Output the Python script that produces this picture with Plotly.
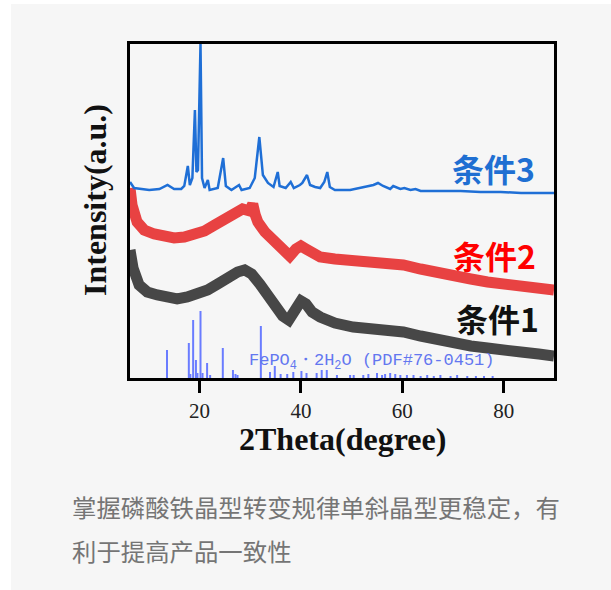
import plotly.graph_objects as go

# ---- data ----
# 2Theta (degree) and intensity (a.u.) for each condition
x_c3 = [6.3, 7.1, 10.1, 12.1, 13.7, 15.0, 16.4, 17.0, 17.7, 18.1, 18.6, 19.1, 19.4, 19.7, 20.2, 20.5,
        21.0, 21.65, 22.0, 23.6, 24.67, 25.2, 26.3, 27.8, 28.3, 29.9, 30.9, 31.8, 32.5, 33.5, 34.6,
        35.43, 35.8, 37.0, 37.99, 38.6, 39.8, 40.28, 41.2, 41.8, 42.8, 43.8, 44.6, 45.2, 45.7, 46.7,
        49.7, 51.7, 53.1, 54.3, 55.2, 56.2, 57.6, 58.2, 59.6, 60.4, 61.6, 62.6, 63.6, 67.5, 71.5,
        75.4, 79.4, 83.4, 87.3, 89.9]
y_c3 = [196, 190, 188, 189, 193, 189, 189, 192, 212, 193, 200, 268, 206, 208, 334, 200,
        190, 198, 188, 190, 220, 192, 188, 193, 188, 190, 200, 241, 203, 195, 191,
        206, 192, 190, 196, 190, 193, 195, 203, 193, 191, 190, 196, 206, 191, 188,
        188, 190, 192, 193, 195, 192, 189, 192, 189, 190, 188, 189, 187, 187, 187,
        186, 186, 185, 185, 185]

x_c2 = [6.3, 6.7, 7.7, 9.1, 11.1, 13.1, 15.0, 17.0, 19.0, 21.0, 23.0, 25.0, 26.9, 28.5, 29.9,
        30.5, 31.0, 31.5, 32.9, 34.9, 36.4, 37.8, 39.0, 40.0, 41.0, 42.4, 43.8, 46.7, 50.3, 53.7,
        56.6, 60.2, 63.6, 66.9, 70.1, 73.5, 76.8, 80.0, 83.4, 86.9, 89.9]
y_c2 = [190, 173, 156, 148, 144, 142, 140, 141, 144, 147, 153, 159, 165, 169, 167,
        174, 163, 156, 146, 136, 127, 122, 129, 132, 129, 124, 121, 119, 117, 117,
        116, 113, 109, 105, 102, 99, 96, 94, 92, 90, 88]

x_c1 = [6.3, 6.9, 8.1, 9.7, 11.7, 13.7, 15.6, 17.6, 19.6, 21.6, 23.6, 25.5, 27.5, 28.9, 30.3,
        31.9, 33.5, 35.0, 36.4, 37.6, 38.8, 40.0, 41.0, 42.2, 43.8, 46.7, 50.3, 53.7, 56.6, 60.2,
        63.6, 66.9, 70.1, 73.5, 76.8, 80.0, 83.4, 86.9, 89.9]
y_c1 = [128, 110, 93, 86, 83, 81, 79, 81, 84, 88, 94, 101, 106, 108, 104,
        94, 81, 70, 62, 58, 67, 77, 74, 66, 61, 55, 51, 50, 49, 46,
        42, 38, 35, 32, 30, 27, 26, 24, 22]

# reference pattern FePO4·2H2O (PDF#76-0451): positions and relative heights
ref_pos = [13.6, 17.9, 18.2, 18.75, 19.3, 19.6, 20.2, 20.6, 21.5, 22.1, 24.6, 26.6, 27.1, 27.5,
           32.1, 33.9, 34.85, 36.0, 37.3, 38.5, 40.1, 41.1, 43.1, 44.1, 45.1, 47.1, 49.7, 50.4,
           52.3, 53.3, 55.0, 56.0, 56.6, 57.6, 58.6, 59.6, 60.9, 62.2, 63.6, 64.9, 66.2, 67.5,
           69.5, 70.8, 72.8, 74.5, 76.1, 77.8]
ref_int = [28, 35, 4, 58, 18, 5, 67, 5, 15, 3, 30, 8, 4, 3,
           52, 6, 12, 4, 4, 6, 7, 5, 5, 8, 8, 3, 3, 3,
           3, 4, 5, 3, 4, 5, 4, 3, 3, 3, 2, 3, 2, 3,
           2, 3, 2, 2, 2, 2]

x_ticks = [20, 40, 60, 80]
labels = ["条件3", "条件2", "条件1"]

# ---- figure ----
stick_x, stick_y = [], []
for p, h in zip(ref_pos, ref_int):
    stick_x += [p, p, None]
    stick_y += [0, h, None]

fig = go.Figure()
fig.add_trace(go.Scatter(x=stick_x, y=stick_y, mode="lines",
                         line=dict(color="#6a7cff", width=2), hoverinfo="skip"))
fig.add_trace(go.Scatter(x=x_c1, y=y_c1, mode="lines",
                         line=dict(color="#474747", width=11), name=labels[2]))
fig.add_trace(go.Scatter(x=x_c2, y=y_c2, mode="lines",
                         line=dict(color="#e84242", width=11), name=labels[1]))
fig.add_trace(go.Scatter(x=x_c3, y=y_c3, mode="lines",
                         line=dict(color="#1f6fd6", width=2.5), name=labels[0]))

L, R, T, B = 130, 57, 44, 212
W, H = 611, 590
pw, ph = W - L - R, H - T - B


def px(xp):
    return (xp - L) / pw


def py(yp):
    return (H - B - yp) / ph


fig.add_shape(type="rect", xref="paper", yref="paper", layer="below",
              x0=px(11), x1=px(611), y0=py(4), y1=py(590),
              fillcolor="#f6f6f6", line=dict(width=0))

ann = []
label_colors = ["#1f6fd2", "#ff0000", "#111111"]
label_pos = [(78.0, 210), (78.2, 123), (78.8, 60)]
for t, c, (lx, ly) in zip(labels, label_colors, label_pos):
    ann.append(dict(x=lx, y=ly, xref="x", yref="y", text="<b>" + t + "</b>", showarrow=False,
                    font=dict(family="Noto Sans CJK SC", size=32, color=c),
                    xanchor="center", yanchor="middle"))
ann.append(dict(x=29.4, y=16, xref="x", yref="y", showarrow=False,
                text="FePO<sub>4</sub>・2H<sub>2</sub>O (PDF#76-0451)",
                font=dict(family="Liberation Mono", size=17, color="#6377f0"),
                xanchor="left", yanchor="middle"))
ann.append(dict(x=0.5, y=py(439), xref="paper", yref="paper", showarrow=False,
                text="<b>2Theta(degree)</b>",
                font=dict(family="Liberation Serif", size=32, color="#111111"),
                xanchor="center", yanchor="middle"))
ann.append(dict(x=px(95), y=py(200), xref="paper", yref="paper", showarrow=False,
                text="<b>Intensity(a.u.)</b>", textangle=-90,
                font=dict(family="Liberation Serif", size=32, color="#111111"),
                xanchor="center", yanchor="middle"))
ann.append(dict(x=px(70), y=py(507), xref="paper", yref="paper", showarrow=False,
                text="掌握磷酸铁晶型转变规律单斜晶型更稳定，有",
                font=dict(family="Noto Sans CJK SC", size=24.4, color="#757575"),
                xanchor="left", yanchor="middle"))
ann.append(dict(x=px(70), y=py(550), xref="paper", yref="paper", showarrow=False,
                text="利于提高产品一致性",
                font=dict(family="Noto Sans CJK SC", size=24.4, color="#757575"),
                xanchor="left", yanchor="middle"))

fig.update_layout(
    width=W, height=H,
    margin=dict(l=L, r=R, t=T, b=B, pad=0),
    paper_bgcolor="white", plot_bgcolor="#f6f6f6",
    showlegend=False,
    annotations=ann,
)
fig.update_xaxes(range=[6.3, 89.9], tickvals=x_ticks, ticks="outside", ticklen=12, tickwidth=2.5,
                 tickcolor="black", showline=True, linecolor="black", linewidth=2.5, mirror=True,
                 showgrid=False, zeroline=False,
                 tickfont=dict(family="Liberation Serif", size=21, color="#222222"))
fig.update_yaxes(range=[0, 334], showticklabels=False, ticks="", showline=True, linecolor="black",
                 linewidth=2.5, mirror=True, showgrid=False, zeroline=False)

fig.write_html("out.html", config={"displayModeBar": False},
               post_script="document.body.style.margin='0';document.body.style.overflow='hidden';")
